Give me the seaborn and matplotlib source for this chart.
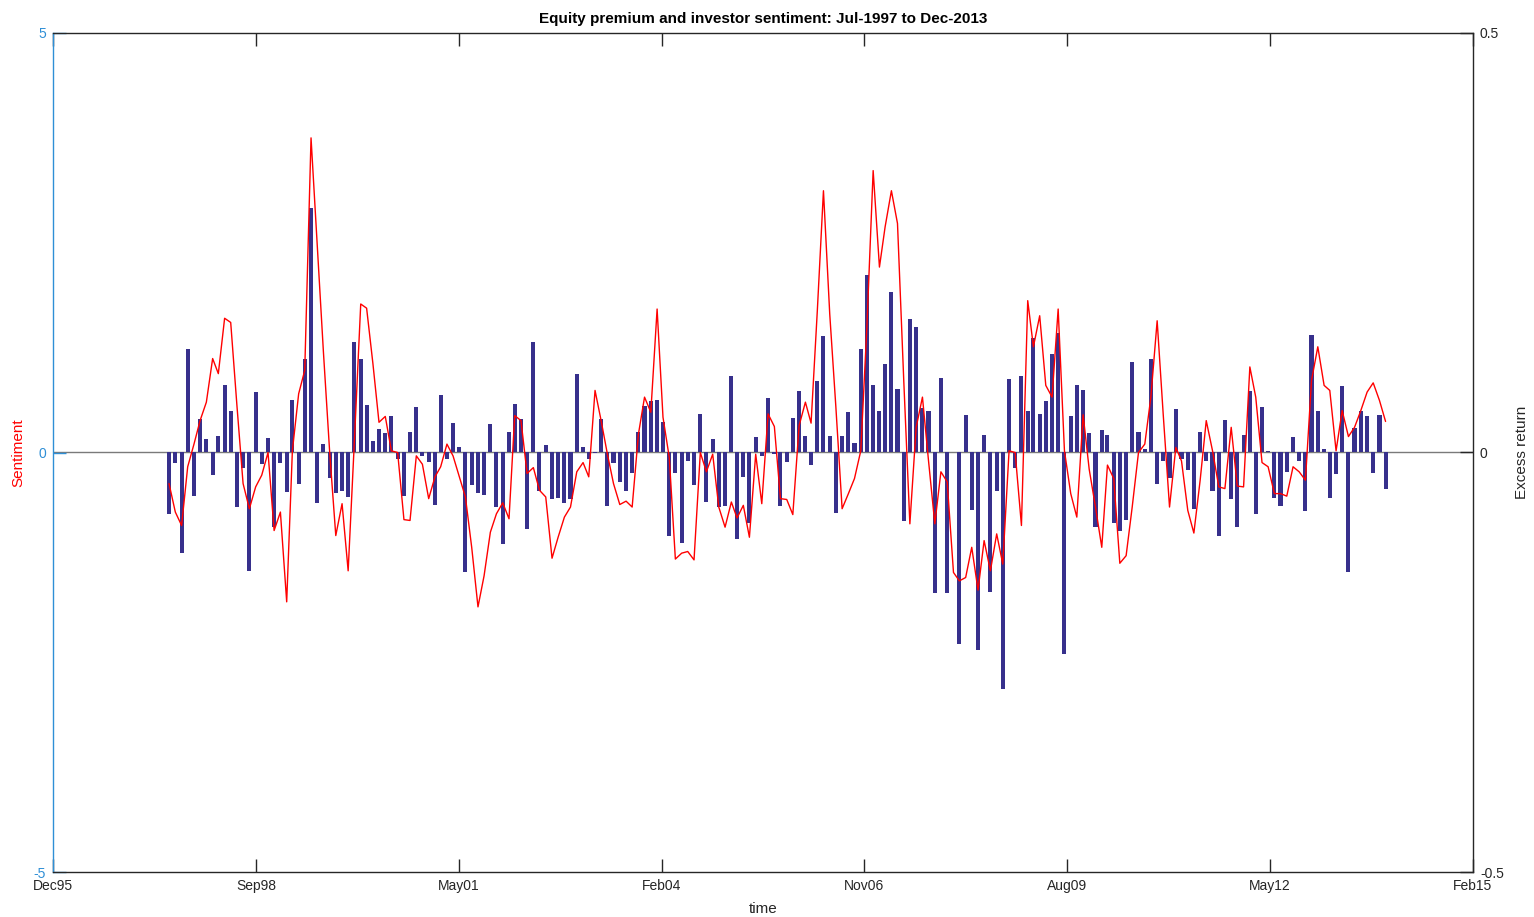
import matplotlib
matplotlib.use("Agg")
import matplotlib.pyplot as plt
import matplotlib.dates as mdates
import numpy as np
import pandas as pd
import seaborn as sns
from datetime import datetime, timedelta

# Monthly observations, Jul-1997 .. Dec-2013
months = pd.date_range("1997-07-01", "2013-12-01", freq="MS")

# Monthly equity premium (right axis)
excess_return = [
    -0.073, -0.012, -0.120, 0.123, -0.052, 0.040, 0.016, -0.027, 0.020, 0.081,
    0.049, -0.065, -0.018, -0.141, 0.072, -0.014, 0.017, -0.089, -0.012, -0.047,
    0.062, -0.038, 0.111, 0.291, -0.060, 0.010, -0.030, -0.048, -0.046, -0.053,
    0.132, 0.111, 0.057, 0.014, 0.028, 0.023, 0.044, -0.008, -0.052, 0.024,
    0.054, -0.004, -0.011, -0.062, 0.068, -0.008, 0.035, 0.006, -0.143, -0.039,
    -0.048, -0.051, 0.034, -0.065, -0.109, 0.025, 0.058, 0.040, -0.091, 0.132,
    -0.046, 0.009, -0.056, -0.054, -0.060, -0.056, 0.093, 0.007, -0.008, -0.001,
    0.040, -0.064, -0.013, -0.035, -0.046, -0.025, 0.024, 0.055, 0.061, 0.062,
    0.036, -0.099, -0.025, -0.108, -0.010, -0.039, 0.046, -0.059, 0.016, -0.065,
    -0.064, 0.091, -0.103, -0.029, -0.084, 0.019, -0.004, 0.065, -0.002, -0.064,
    -0.011, 0.041, 0.073, 0.020, -0.015, 0.085, 0.139, 0.020, -0.072, 0.020,
    0.048, 0.011, 0.123, 0.212, 0.081, 0.049, 0.105, 0.191, 0.076, -0.082,
    0.159, 0.149, 0.053, 0.049, -0.168, 0.089, -0.168, 0.000, -0.228, 0.045,
    -0.069, -0.235, 0.021, -0.166, -0.046, -0.282, 0.088, -0.019, 0.091, 0.050,
    0.137, 0.046, 0.061, 0.117, 0.143, -0.240, 0.043, 0.081, 0.075, 0.023,
    -0.089, 0.027, 0.021, -0.084, -0.094, -0.081, 0.108, 0.024, 0.004, 0.112,
    -0.038, -0.010, -0.030, 0.052, -0.008, -0.021, -0.067, 0.024, -0.010, -0.046,
    -0.099, 0.039, -0.055, -0.089, 0.021, 0.073, -0.073, 0.054, 0.002, -0.054,
    -0.064, -0.023, 0.019, -0.010, -0.070, 0.140, 0.050, 0.004, -0.054, -0.026,
    0.079, -0.143, 0.029, 0.050, 0.044, -0.025, 0.045, -0.044,
]

# Investor sentiment index (left axis)
sentiment = [
    -0.37, -0.71, -0.87, -0.17, 0.10, 0.38, 0.60, 1.12, 0.94, 1.60,
    1.55, 0.55, -0.37, -0.67, -0.41, -0.27, 0.00, -0.93, -0.71, -1.78,
    0.02, 0.70, 0.98, 3.75, 2.50, 1.20, 0.00, -0.99, -0.61, -1.41,
    0.15, 1.77, 1.72, 1.06, 0.36, 0.43, 0.02, 0.00, -0.80, -0.81,
    -0.04, -0.14, -0.55, -0.29, -0.17, 0.10, -0.04, -0.29, -0.53, -1.13,
    -1.84, -1.47, -0.95, -0.73, -0.60, -0.79, 0.44, 0.38, -0.25, -0.18,
    -0.45, -0.53, -1.26, -1.01, -0.77, -0.65, -0.23, -0.12, -0.29, 0.74,
    0.38, -0.02, -0.37, -0.62, -0.58, -0.65, 0.22, 0.66, 0.48, 1.71,
    0.42, -0.06, -1.27, -1.20, -1.18, -1.28, 0.00, -0.23, -0.02, -0.65,
    -0.89, -0.59, -0.78, -0.63, -1.01, -0.02, -0.61, 0.46, 0.31, -0.55,
    -0.56, -0.74, 0.32, 0.60, 0.35, 1.70, 3.12, 1.65, 0.55, -0.67,
    -0.49, -0.31, 0.02, 1.49, 3.36, 2.21, 2.69, 3.12, 2.73, 0.85,
    -0.85, 0.30, 0.66, -0.10, -0.85, -0.23, -0.35, -1.43, -1.53, -1.49,
    -1.13, -1.64, -1.05, -1.41, -0.97, -1.33, 0.02, 0.00, -0.87, 1.81,
    1.26, 1.63, 0.80, 0.66, 1.71, 0.02, -0.49, -0.77, 0.45, -0.20,
    -0.65, -1.13, -0.15, -0.31, -1.32, -1.23, -0.65, 0.00, 0.10, 0.66,
    1.57, 0.45, -0.65, 0.06, -0.10, -0.69, -0.96, -0.33, 0.38, 0.02,
    -0.41, -0.43, 0.30, -0.40, -0.41, 1.02, 0.66, -0.12, -0.17, -0.49,
    -0.49, -0.52, -0.17, -0.23, -0.33, 0.86, 1.26, 0.80, 0.74, 0.02,
    0.50, 0.19, 0.30, 0.50, 0.72, 0.83, 0.62, 0.37,
]

title = "Equity premium and investor sentiment: Jul-1997 to Dec-2013"

BLUE = "#2f8fd6"
BAR = "#37308c"
DARK = "#262626"

sns.set_theme(style="ticks")
plt.rcParams["font.family"] = ["Liberation Sans", "DejaVu Sans"]
plt.rcParams["axes.unicode_minus"] = False

fig = plt.figure(figsize=(15.34, 9.17), dpi=100)
ax = fig.add_axes([53 / 1534, 1 - 872 / 917, 1420 / 1534, 839 / 917])
ax2 = ax.twinx()

df = pd.DataFrame({
    "month": mdates.date2num(months),
    "ret": excess_return,
    "sent": sentiment,
})

# bars: excess return on the right-hand scale
sns.barplot(data=df, x="month", y="ret", native_scale=True, orient="x",
            width=0.72, color=BAR, saturation=1, errorbar=None,
            linewidth=0, ax=ax2)
ax2.axhline(0, color="#7a7a7a", lw=1.0, zorder=0.5)

# line: sentiment on the left-hand scale, drawn above the bars
sns.lineplot(data=df, x="month", y="sent", color="red", lw=1.0, ax=ax)
ax.set_zorder(ax2.get_zorder() + 1)
ax.patch.set_visible(False)

# time axis: ticks every 1000 days
t0 = datetime(1995, 12, 7)
ticks = [mdates.date2num(t0 + timedelta(days=1000 * k)) for k in range(8)]
ax.set_xlim(ticks[0], ticks[-1])
ax.set_xticks(ticks)
ax.xaxis.set_major_formatter(mdates.DateFormatter("%b%y"))

ax.set_ylim(-5, 5)
ax.set_yticks([-5, 0, 5])
ax.set_yticklabels(["-5", "0", "5"])
ax2.set_ylim(-0.5, 0.5)
ax2.set_yticks([-0.5, 0, 0.5])
ax2.set_yticklabels(["-0.5", "0", "0.5"])

tick_len = 9.4
ax.tick_params(axis="x", direction="in", length=tick_len, width=1.0,
               top=True, bottom=True, colors=DARK, labelsize=10, pad=5)
ax.tick_params(axis="y", direction="in", length=tick_len, width=1.0,
               colors=BLUE, labelsize=10, pad=5, right=False)
ax2.tick_params(axis="y", direction="in", length=tick_len, width=1.0,
                colors=DARK, labelsize=10, pad=5)

for side in ("top", "bottom"):
    ax.spines[side].set_color(DARK)
    ax.spines[side].set_linewidth(1.0)
ax.spines["left"].set_color(BLUE)
ax.spines["left"].set_linewidth(1.0)
ax.spines["right"].set_visible(False)
ax2.spines["left"].set_visible(False)
ax2.spines["top"].set_visible(False)
ax2.spines["bottom"].set_visible(False)
ax2.spines["right"].set_color(DARK)
ax2.spines["right"].set_linewidth(1.0)

ax.set_xlabel("time", fontsize=11, color=DARK)
ax.xaxis.set_label_coords(0.5, -0.036)
ax.set_ylabel("Sentiment", fontsize=11, color="red")
ax.yaxis.set_label_coords(-0.0197, 0.5)
ax2.set_ylabel("Excess return", fontsize=11, color=DARK)
ax2.yaxis.set_label_coords(1.0296, 0.5)

ax.set_title(title, fontsize=11, fontweight="bold", color="black", pad=7)

fig.savefig("out.png", dpi=100)
